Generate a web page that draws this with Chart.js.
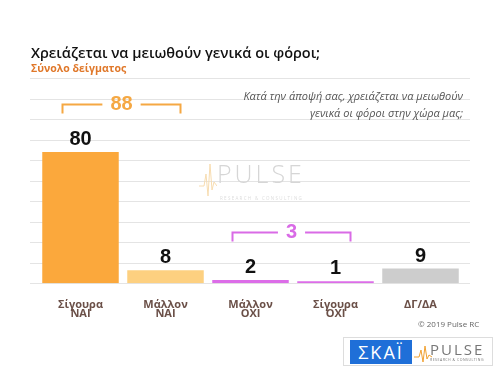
<!DOCTYPE html>
<html>
<head>
<meta charset="utf-8">
<script src="https://cdn.jsdelivr.net/npm/chart.js@4"></script>
<style>
  body { margin: 0; background: #fff; font-family: "Open Sans", sans-serif; }
  #wrap { position: relative; width: 500px; height: 374px; overflow: hidden; }
  #chart { position: absolute; left: 0; top: 0; }
  .title { position: absolute; left: 31px; top: 43px; font-size: 14.5px; font-weight: 600; color: #111; white-space: nowrap; }
  .subtitle { position: absolute; left: 31px; top: 61px; font-size: 10.5px; font-weight: 700; color: #e0782a; }
  .question { position: absolute; right: 37px; top: 87px; font-size: 11px; font-style: italic; color: #555; text-align: right; line-height: 17px; }
  .copy { position: absolute; left: 418px; top: 318px; font-size: 8px; color: #666; }
  .mark { position: absolute; left: 199px; top: 158px; width: 120px; height: 50px; color: #d6d6d6; }
  .mark .big { position: absolute; left: 18px; top: 0; font-size: 25px; letter-spacing: 3px; font-weight: 300; line-height: 30px; }
  .mark .small { position: absolute; left: 21px; top: 37px; font-size: 4.5px; letter-spacing: 1.3px; color: #ddd; white-space: nowrap; }
  .logo { position: absolute; left: 343px; top: 337px; width: 150px; height: 29px; border: 1px solid #ddd; box-sizing: border-box; background: #fff; }
  .skai { position: absolute; left: 6px; top: 2px; width: 62px; height: 24px; background: #1f6fd8; color: #fff; font-size: 18px; line-height: 24px; text-align: center; letter-spacing: 2px; }
  .pl { position: absolute; left: 86px; top: 1px; font-size: 15px; color: #777; letter-spacing: 2px; }
  .pl2 { position: absolute; left: 86px; top: 19px; font-size: 3.5px; color: #777; letter-spacing: 0.5px; }
</style>
</head>
<body>
<div id="wrap">
  <canvas id="chart" width="500" height="374"></canvas>
  <div class="mark">
    <svg style="position:absolute;left:0;top:2px" width="18" height="40"><polyline points="0,26 5,26 7,14 9,36 11,4 13,30 15,22 18,26" fill="none" stroke="#f7dcb0" stroke-width="1"/></svg>
    <div class="big">PULSE</div>
    <div class="small">RESEARCH &amp; CONSULTING</div>
  </div>
  <div class="title">Χρειάζεται να μειωθούν γενικά οι φόροι;</div>
  <div class="subtitle">Σύνολο δείγματος</div>
  <div class="question">Κατά την άποψή σας, χρειάζεται να μειωθούν<br>γενικά οι φόροι στην χώρα μας;</div>
  <div class="copy">© 2019 Pulse RC</div>
  <div class="logo">
    <div class="skai">ΣΚΑΪ</div>
    <svg style="position:absolute;left:70px;top:6px" width="18" height="20"><polyline points="0,13 5,13 7,6 9,18 11,2 13,15 15,11 18,13" fill="none" stroke="#f0a030" stroke-width="1"/></svg>
    <div class="pl">PULSE</div>
    <div class="pl2">RESEARCH &amp; CONSULTING</div>
  </div>
</div>
<script>
const categories = [['Σίγουρα', 'ΝΑΙ'], ['Μάλλον', 'ΝΑΙ'], ['Μάλλον', 'ΟΧΙ'], ['Σίγουρα', 'ΟΧΙ'], 'ΔΓ/ΔΑ'];
const values = [80, 8, 2, 1, 9];
const barColors = ['#fba83c', '#fdd080', '#dc6de8', '#dc6de8', '#cdcdcd'];
// groups of bars summed above them
const groups = [[0, 1], [2, 3]];
const groupColors = ['#f5a843', '#d96be6'];

// horizontal guide lines across the whole width
const guideLines = {
  id: 'guideLines',
  beforeDatasetsDraw(chart) {
    const { ctx, scales: { y } } = chart;
    ctx.save();
    ctx.strokeStyle = '#e4e4e4';
    ctx.lineWidth = 1;
    y.ticks.forEach((t) => {
      const py = Math.round(y.getPixelForValue(t.value)) + 0.5;
      ctx.beginPath();
      ctx.moveTo(30, py);
      ctx.lineTo(470, py);
      ctx.stroke();
    });
    ctx.restore();
  }
};

const valueLabels = {
  id: 'valueLabels',
  afterDatasetsDraw(chart) {
    const { ctx } = chart;
    const meta = chart.getDatasetMeta(0);
    ctx.save();
    ctx.font = 'bold 20px "Liberation Sans", Arial, sans-serif';
    ctx.fillStyle = '#111';
    ctx.textAlign = 'center';
    ctx.textBaseline = 'alphabetic';
    meta.data.forEach((bar, i) => {
      ctx.fillText(values[i], bar.x, bar.y - 7);
    });
    ctx.restore();
  }
};

const brackets = {
  id: 'brackets',
  afterDatasetsDraw(chart) {
    const { ctx, scales: { x, y } } = chart;
    ctx.save();
    groups.forEach((g, k) => {
      const total = g.reduce((s, i) => s + values[i], 0);
      const top = Math.max(...g.map((i) => values[i]));
      const x0 = x.getPixelForValue(g[0]) - 18;
      const x1 = x.getPixelForValue(g[g.length - 1]) + 15;
      const py = Math.round(y.getPixelForValue(top) - 48) + 0.5;
      const mid = (x0 + x1) / 2;
      ctx.font = 'bold 20px "Liberation Sans", Arial, sans-serif';
      const half = ctx.measureText(String(total)).width / 2 + 8;
      ctx.strokeStyle = groupColors[k];
      ctx.lineWidth = 2;
      ctx.beginPath();
      ctx.moveTo(x0, py + 9);
      ctx.lineTo(x0, py);
      ctx.lineTo(mid - half, py);
      ctx.moveTo(mid + half, py);
      ctx.lineTo(x1, py);
      ctx.lineTo(x1, py + 9);
      ctx.stroke();
      ctx.fillStyle = groupColors[k];
      ctx.textAlign = 'center';
      ctx.textBaseline = 'middle';
      ctx.fillText(total, mid, py);
    });
    ctx.restore();
  }
};

new Chart(document.getElementById('chart'), {
  type: 'bar',
  data: {
    labels: categories,
    datasets: [{
      data: values,
      backgroundColor: barColors,
      categoryPercentage: 0.9,
      barPercentage: 1,
      minBarLength: 2
    }]
  },
  options: {
    responsive: false,
    animation: false,
    layout: { padding: { left: 38, right: 37, top: 78, bottom: 38 } },
    plugins: { legend: { display: false }, tooltip: { enabled: false } },
    scales: {
      x: {
        grid: { display: false, drawTicks: false },
        border: { display: false },
        ticks: {
          padding: 17,
          color: '#6b5048',
          font: { family: '"Open Sans", sans-serif', size: 11, weight: 'bold', lineHeight: 0.85 }
        }
      },
      y: {
        min: 0,
        max: 125,
        display: false,
        ticks: { stepSize: 12.5 }
      }
    }
  },
  plugins: [guideLines, valueLabels, brackets]
});
</script>
</body>
</html>
